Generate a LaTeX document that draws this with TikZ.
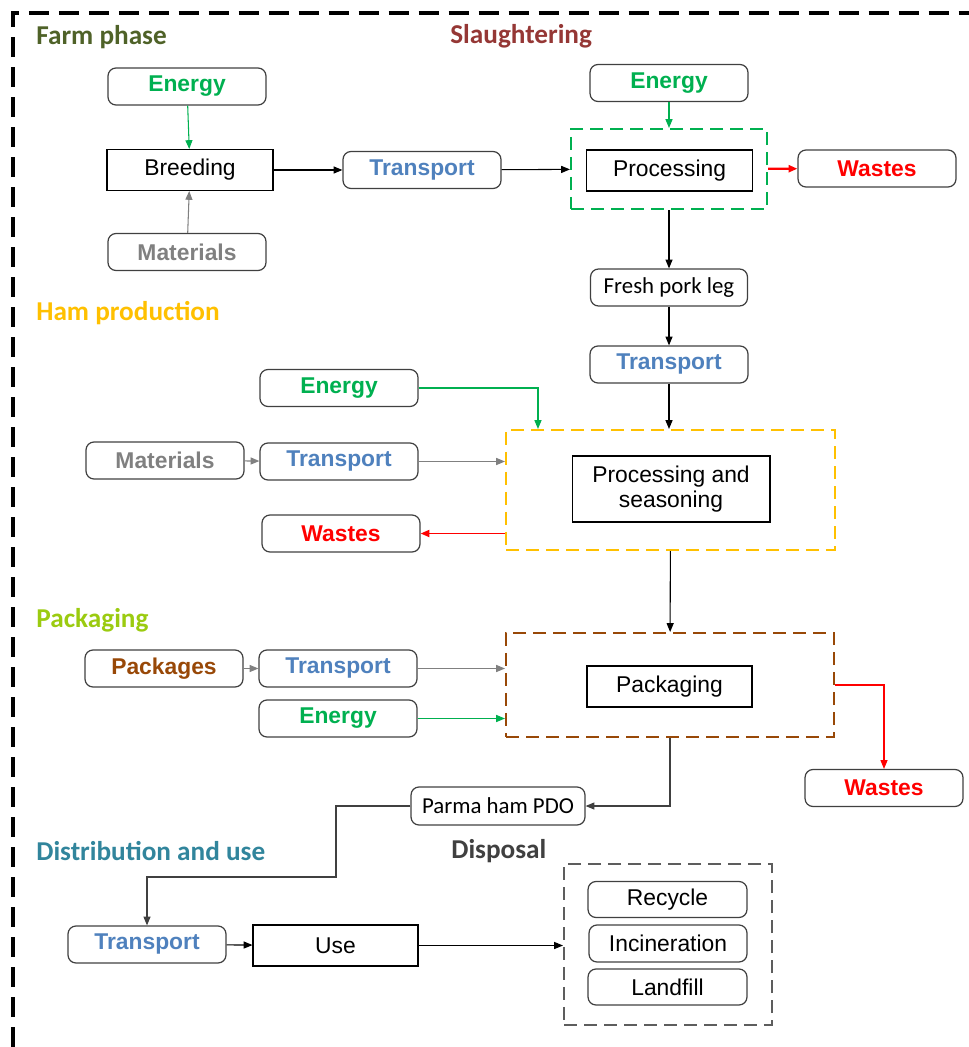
\documentclass[tikz,border=0pt]{standalone}
\usepackage{fontspec}
\setmainfont{Liberation Sans}
\newfontfamily\calibri{Carlito}
\usepackage{tikz}
\usetikzlibrary{arrows.meta,calc}

\definecolor{engreen}{HTML}{00B050}
\definecolor{matgray}{HTML}{808080}
\definecolor{trblue}{HTML}{4F81BD}
\definecolor{pkbrown}{HTML}{984807}
\definecolor{farmol}{HTML}{4F6228}
\definecolor{slred}{HTML}{953735}
\definecolor{hamyel}{HTML}{FFC000}
\definecolor{pkgtit}{HTML}{9BCB10}
\definecolor{distteal}{HTML}{31859C}
\definecolor{dispgray}{HTML}{404040}

\begin{document}
\begin{tikzpicture}[x=0.02cm,y=-0.02cm,
  font=\fontsize{13}{14.5}\selectfont,
  >={Triangle[length=5pt,width=4pt]},
  rbox/.style={draw=dispgray,line width=0.7pt,rounded corners=0.16cm,minimum width=3.16cm,minimum height=0.74cm,inner sep=1pt},
  lbl/.style={rbox,text=#1,font=\bfseries\fontsize{13}{15}\selectfont},
  cbox/.style={rbox,font=\calibri\fontsize{13}{15}\selectfont},
  pbox/.style={draw=black,line width=0.6pt,minimum width=3.32cm,minimum height=0.82cm,inner sep=1pt},
  phase/.style={anchor=west,inner sep=0pt,font=\calibri\bfseries\fontsize{15.5}{18}\selectfont},
  grp/.style={draw,line width=1.2pt,dash pattern=on 0.26cm off 0.14cm,inner sep=0pt},
  outerframe/.style={line width=2pt,dash pattern=on 0.4cm off 0.2cm},
  arr/.style={->,line width=0.6pt},
  garr/.style={arr,engreen},
  marr/.style={arr,matgray},
  warr/.style={arr,red},
]
  \useasboundingbox (0,0) rectangle (969,1047);
  \draw[outerframe] (13,1047) -- (13,13) -- (969,13);

  % phase titles
  \node[phase,farmol] (tFarm) at (36,37) {Farm phase};
  \node[phase,slred] (tSlaug) at (450,36) {Slaughtering};
  \node[phase,hamyel] (tHam) at (36,313) {Ham production};
  \node[phase,pkgtit] (tPkg) at (36,620) {Packaging};
  \node[phase,distteal] (tDist) at (36,851) {Distribution and use};
  \node[phase,dispgray] (tDisp) at (451,851) {Disposal};

  % dashed groups
  \node[grp,engreen,minimum width=3.92cm,minimum height=1.6cm] (gSl) at (669,169) {};
  \node[grp,hamyel,minimum width=6.58cm,minimum height=2.4cm] (gHam) at (670.5,490) {};
  \node[grp,pkbrown,minimum width=6.56cm,minimum height=2.08cm] (gPkg) at (670,685) {};
  \node[grp,dispgray!85,minimum width=4.16cm,minimum height=3.22cm] (gDisp) at (668,944.5) {};

  % farm phase
  \node[lbl=engreen] (en1) at (187,86.5) {Energy};
  \node[pbox] (breed) at (190,170) {Breeding};
  \node[lbl=matgray] (mat1) at (187,252) {Materials};
  \node[lbl=trblue] (tr1) at (422,170) {Transport};

  % slaughtering
  \node[lbl=engreen] (en2) at (669,83) {Energy};
  \node[pbox] (proc) at (669.5,170.5) {Processing};
  \node[lbl=red] (was1) at (877,168.5) {Wastes};
  \node[cbox,minimum width=3.14cm] (fresh) at (669,287.5) {Fresh pork leg};

  % ham production
  \node[lbl=trblue] (tr2) at (669,364.5) {Transport};
  \node[lbl=engreen] (en3) at (339,388) {Energy};
  \node[lbl=matgray] (mat2) at (165,460.5) {Materials};
  \node[lbl=trblue] (tr3) at (339,461.5) {Transport};
  \node[lbl=red] (was2) at (341,533.5) {Wastes};
  \node[pbox,minimum width=3.96cm,minimum height=1.32cm,align=center] (seas) at (671,489) {Processing and\\seasoning};

  % packaging
  \node[lbl=pkbrown] (pk) at (164,668.5) {Packages};
  \node[lbl=trblue] (tr4) at (338,668.5) {Transport};
  \node[lbl=engreen] (en4) at (338,718.5) {Energy};
  \node[pbox,minimum width=3.3cm] (pack) at (669.5,686.5) {Packaging};
  \node[lbl=red] (was3) at (884,788) {Wastes};
  \node[cbox,minimum width=3.48cm,minimum height=0.76cm] (parma) at (498,806) {Parma ham PDO};

  % distribution, use, disposal
  \node[lbl=trblue] (tr5) at (147,944.5) {Transport};
  \node[pbox,minimum width=3.3cm] (use) at (335.5,945.5) {Use};
  \node[rbox,minimum width=3.18cm,minimum height=0.72cm] (recy) at (667.5,899.5) {Recycle};
  \node[rbox] (inc) at (668,943.5) {Incineration};
  \node[rbox,minimum width=3.18cm,minimum height=0.72cm] (land) at (667.5,987) {Landfill};
  \coordinate (bend) at (336,877);

  % flows
  \draw[garr] (en1) -- (breed);
  \draw[marr] (mat1) -- (breed);
  \draw[arr] (breed) -- (tr1);
  \draw[arr] (tr1) -- (gSl);
  \draw[garr] (en2) -- (gSl);
  \draw[warr,line width=1.2pt] (gSl) -- (was1);
  \draw[arr] (gSl) -- (fresh);
  \draw[arr] (fresh) -- (tr2);
  \draw[arr] (tr2) -- (tr2 |- gHam.north);
  \draw[garr] (en3) -| ($(gHam.north west)+(33,0)$);
  \draw[marr] (mat2) -- (tr3);
  \draw[marr] (tr3) -- (tr3 -| gHam.west);
  \draw[warr,line width=1pt] (was2 -| gHam.west) -- (was2);
  \draw[arr] (gHam) -- (gPkg);
  \draw[marr] (pk) -- (tr4);
  \draw[marr] (tr4) -- (tr4 -| gPkg.west);
  \draw[garr] (en4) -- (en4 -| gPkg.west);
  \draw[warr] (gPkg.east) -| (was3);
  \draw[arr,draw=dispgray] (gPkg.south) |- (parma);
  \draw[arr,draw=dispgray] (parma) -| (bend) -| (tr5);
  \draw[arr] (tr5) -- (use);
  \draw[arr] (use) -- (use -| gDisp.west);
\end{tikzpicture}
\end{document}
